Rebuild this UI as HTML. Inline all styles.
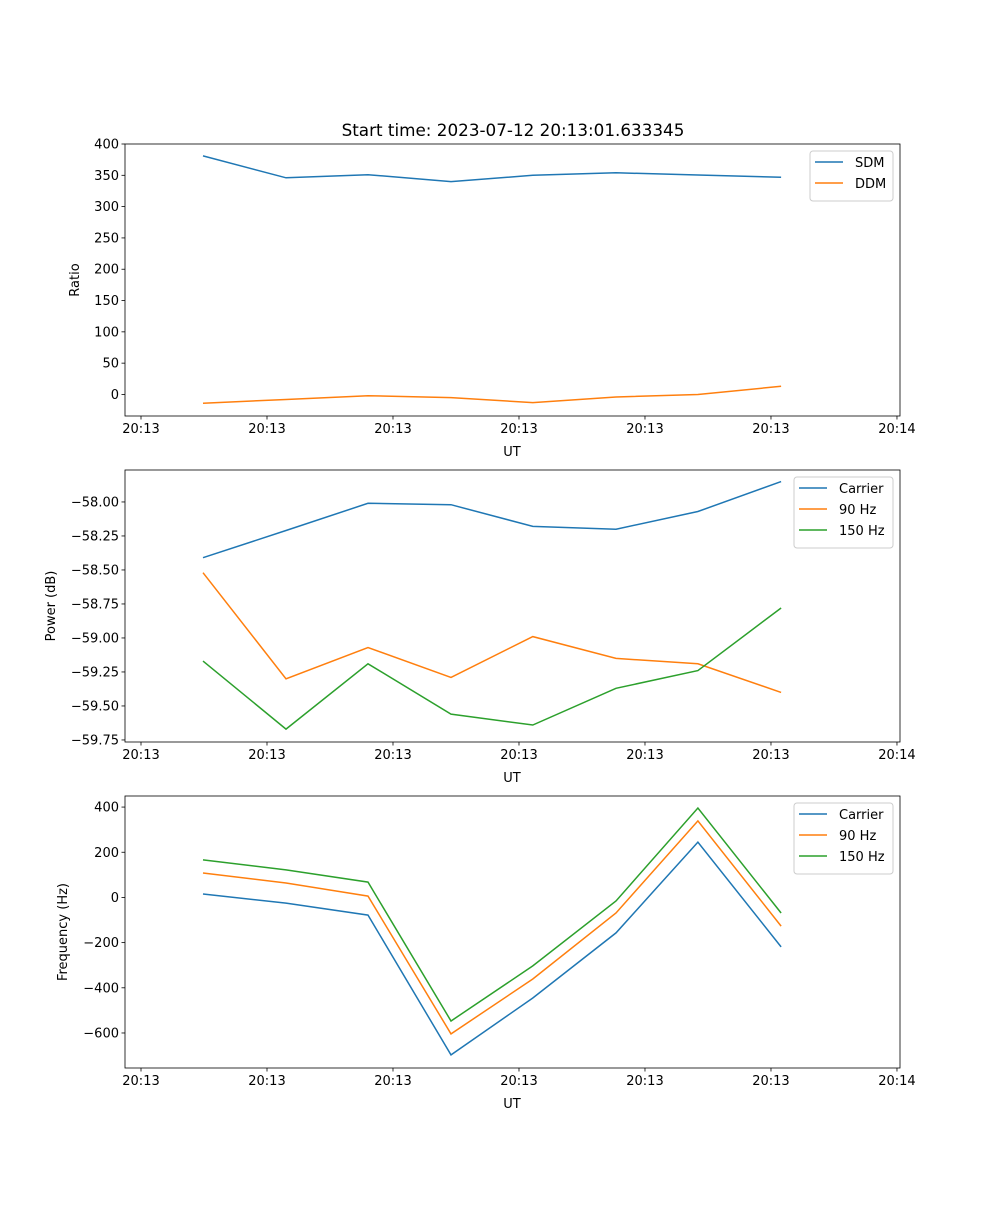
<!DOCTYPE html>
<html><head><meta charset="utf-8"><style>
body{margin:0;background:#fff;}
svg text{font-family:"DejaVu Sans","Liberation Sans",sans-serif;}
</style></head><body>
<svg id="fig" width="1000" height="1200" xmlns="http://www.w3.org/2000/svg">
<rect width="1000" height="1200" fill="#fff"/>
<text x="513" y="136" font-size="16.8" text-anchor="middle">Start time: 2023-07-12 20:13:01.633345</text>
</svg>
<script>
const times = [4.92, 11.51, 18.02, 24.6, 31.1, 37.7, 44.2, 50.8];
const xTicks = [0, 10, 20, 30, 40, 50, 60];
const xTickLabels = ["20:13","20:13","20:13","20:13","20:13","20:13","20:14"];
const sdm = [381, 346, 351, 340, 350, 354, 350.5, 347];
const ddm = [-14, -8, -2, -5, -13, -4, 0, 13];
const pCarrier = [-58.41, -58.21, -58.01, -58.02, -58.18, -58.20, -58.07, -57.85];
const p90 = [-58.52, -59.30, -59.07, -59.29, -58.99, -59.15, -59.19, -59.40];
const p150 = [-59.17, -59.67, -59.19, -59.56, -59.64, -59.37, -59.24, -58.78];
const fCarrier = [15, -25, -78, -697, -445, -157, 245, -219];
const f90 = [108, 64, 6, -604, -361, -69, 339, -127];
const f150 = [166, 122, 68, -547, -303, -16, 396, -69];
const ratioTicks = [0,50,100,150,200,250,300,350,400];
const powerTicks = [-58.00,-58.25,-58.50,-58.75,-59.00,-59.25,-59.50,-59.75];
const powerTickLabels = ["\u221258.00","\u221258.25","\u221258.50","\u221258.75","\u221259.00","\u221259.25","\u221259.50","\u221259.75"];
const freqTicks = [400,200,0,-200,-400,-600];
const freqTickLabels = ["400","200","0","\u2212200","\u2212400","\u2212600"];

const NS="http://www.w3.org/2000/svg";
const svg=document.getElementById('fig');
function mk(tag,attrs,parent){const e=document.createElementNS(NS,tag);for(const k in attrs)e.setAttribute(k,attrs[k]);(parent||svg).appendChild(e);return e;}
const X0=125,X1=900,XMIN=-1.27,XMAX=60.24;
const xs=t=>X0+(t-XMIN)/(XMAX-XMIN)*(X1-X0);
const C={blue:'#1f77b4',orange:'#ff7f0e',green:'#2ca02c'};

function panel(name,top,bottom,ymin,ymax,yt,ytl,ylabel,ylabelX,series,legend){
  const g=mk('g',{});
  
  
  const ys=v=>bottom-(v-ymin)/(ymax-ymin)*(bottom-top);
  series.forEach(s=>{
    const d=s.vals.map((v,i)=>(i?'L':'M')+xs(times[i]).toFixed(1)+','+ys(v).toFixed(1)).join(' ');
    const p=mk('path',{d:d,fill:'none',stroke:s.color,'stroke-width':1.5},g);
    
    
  });
  const fr=mk('rect',{x:X0,y:top,width:X1-X0,height:bottom-top,fill:'none',stroke:'#000','stroke-width':0.8},g);
  
  
  xTicks.forEach((t,i)=>{
    const x=xs(t);
    mk('line',{x1:x,x2:x,y1:bottom,y2:bottom+3.5,stroke:'#000','stroke-width':0.8},g);
    const tx=mk('text',{x:x,y:bottom+17,'font-size':13,'text-anchor':'middle'},g);
    tx.textContent=xTickLabels[i];
    
    
  });
  const xl=mk('text',{x:512,y:bottom+40,'font-size':13,'text-anchor':'middle'},g);
  xl.textContent='UT';
  
  
  yt.forEach((v,i)=>{
    const y=ys(v);
    mk('line',{x1:X0-3.5,x2:X0,y1:y,y2:y,stroke:'#000','stroke-width':0.8},g);
    const tx=mk('text',{x:X0-6,y:y+4.5,'font-size':13,'text-anchor':'end'},g);
    tx.textContent=ytl[i];
    
    
  });
  const my=(top+bottom)/2;
  const yl=mk('text',{x:ylabelX,y:my,'font-size':13,'text-anchor':'middle',transform:`rotate(-90 ${ylabelX} ${my})`},g);
  yl.textContent=ylabel;
  
  
  const lg=mk('g',{},g);
  
  
  mk('rect',{x:legend.x,y:top+7,width:893-legend.x,height:8+series.length*21,rx:3,fill:'#fff',stroke:'#ccc','stroke-width':1},lg);
  series.forEach((s,i)=>{
    const y=top+18+i*21;
    mk('line',{x1:legend.x+5,x2:legend.x+33,y1:y,y2:y,stroke:s.color,'stroke-width':1.5},lg);
    const t=mk('text',{x:legend.x+45,y:y+5,'font-size':13},lg);
    t.textContent=s.label;
    
    
  });
}
panel('ratio-panel',144,416,-34.4,400,ratioTicks,ratioTicks.map(String),'Ratio',79,
  [{key:'sdm',label:'SDM',vals:sdm,color:C.blue},{key:'ddm',label:'DDM',vals:ddm,color:C.orange}],{x:810});
panel('power-panel',470,742,-59.765,-57.765,powerTicks,powerTickLabels,'Power (dB)',55,
  [{key:'carrier',label:'Carrier',vals:pCarrier,color:C.blue},{key:'90hz',label:'90 Hz',vals:p90,color:C.orange},{key:'150hz',label:'150 Hz',vals:p150,color:C.green}],{x:794});
panel('frequency-panel',796,1068,-755,449,freqTicks,freqTickLabels,'Frequency (Hz)',67,
  [{key:'carrier',label:'Carrier',vals:fCarrier,color:C.blue},{key:'90hz',label:'90 Hz',vals:f90,color:C.orange},{key:'150hz',label:'150 Hz',vals:f150,color:C.green}],{x:794});
</script>
</body></html>
